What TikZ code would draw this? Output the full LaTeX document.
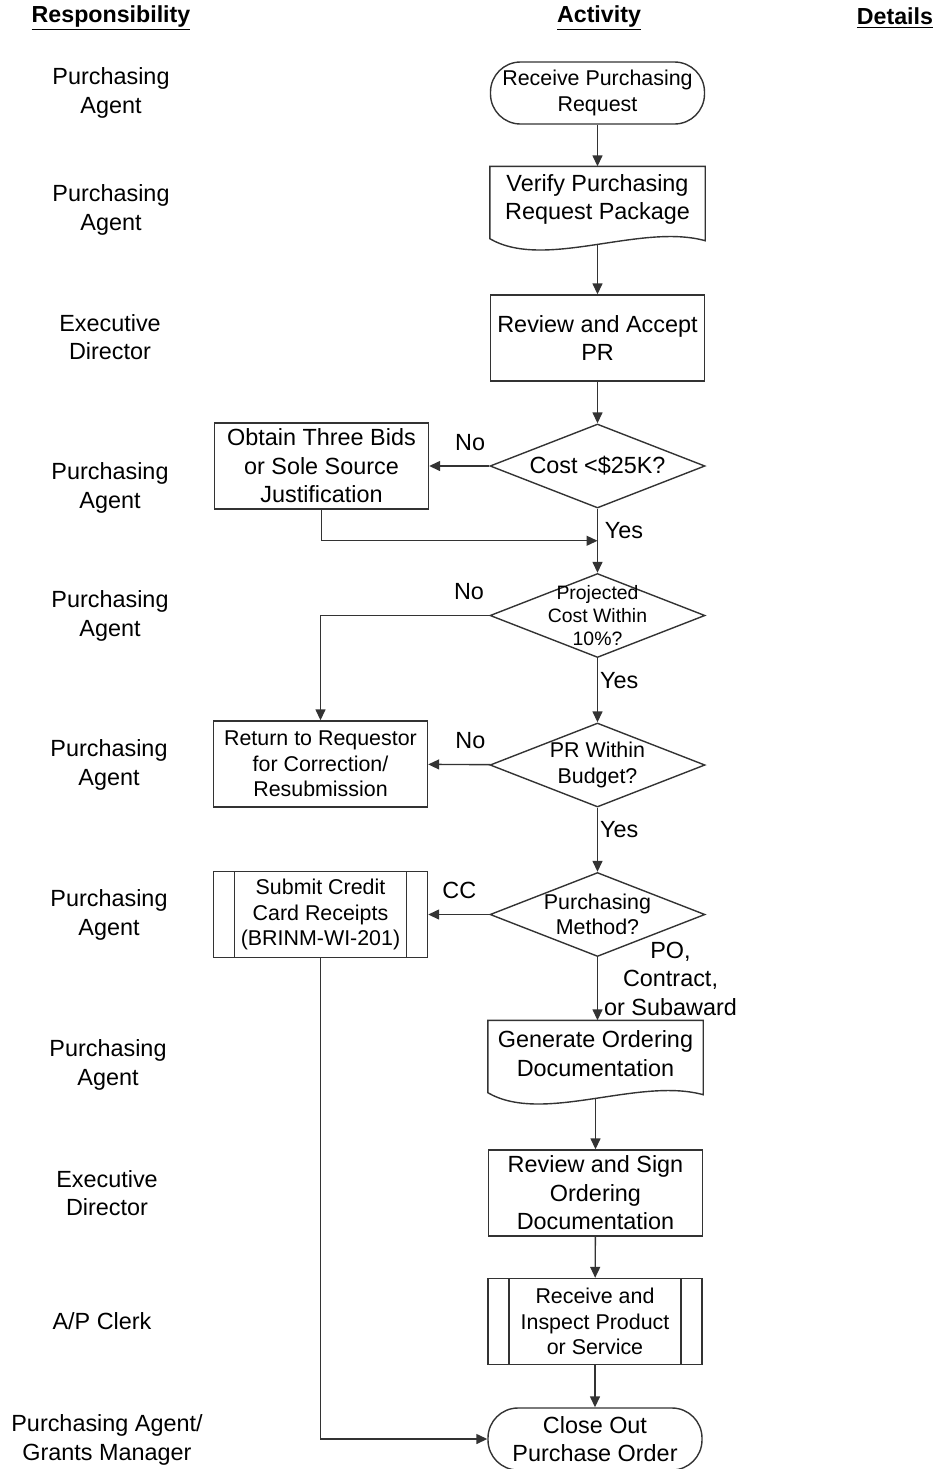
\documentclass[tikz,border=0pt]{standalone}
\usepackage{fontspec}
\setmainfont{Liberation Sans}
\usetikzlibrary{shapes.geometric, arrows.meta, positioning, calc}

\tikzset{
  txt/.style={font=\fontsize{11.7}{14.2}\selectfont},
  txtsm/.style={font=\fontsize{10.7}{12.8}\selectfont},
  head/.style={font=\fontsize{11.6}{14}\selectfont\bfseries},
  who/.style={txt, align=center},
  box/.style={rectangle, draw=black!80, line width=0.7pt, align=center, txt,
    minimum width=107pt, minimum height=43pt, inner sep=2pt},
  term/.style={box, rounded corners=15pt, minimum height=31pt, txtsm},
  docbox/.style={box, draw=none, minimum height=32.5pt},
  subproc/.style={box, txtsm, path picture={
    \draw[black!80, line width=0.7pt]
      ([xshift=10.5pt]path picture bounding box.north west) -- ([xshift=10.5pt]path picture bounding box.south west)
      ([xshift=-10.5pt]path picture bounding box.north east) -- ([xshift=-10.5pt]path picture bounding box.south east);}},
  decision/.style={diamond, draw=black!80, line width=0.7pt, align=center, txtsm,
    aspect=2.6, inner sep=-8pt, minimum width=107.5pt, minimum height=42pt},
  flow/.style={draw=black!80, line width=0.7pt, -{Triangle[length=5.5pt, width=5pt]}},
  lbl/.style={txt}
}

% wavy outline of a document box, plus the point where its arrow leaves
\newcommand{\docwave}[1]{%
  \draw[black!80, line width=0.7pt] (#1.north west) -- (#1.north east) -- ($(#1.south east)+(0,8)$)
    .. controls ($(#1.south east)+(-65,-10)$) and ($(#1.south west)+(55,38)$) .. ($(#1.south west)+(0,6)$) -- cycle;
  \coordinate (#1-b) at ($(#1.south)+(0,12)$);}

\begin{document}
\begin{tikzpicture}[x=0.5pt, y=-0.5pt]
    \useasboundingbox (0,0) rectangle (938,1469);

    % headings
    \node[head] (hresp) at (111,18) {\underline{Responsibility}};
    \node[head] (hact)  at (599,18) {\underline{Activity}};
    \node[head] (hdet)  at (895,18) {\underline{Details}};

    % responsibility
    \node[who] (r1)  at (111,93)   {Purchasing\\Agent};
    \node[who] (r2)  at (111,210)  {Purchasing\\Agent};
    \node[who] (r3)  at (110,337)  {Executive\\Director};
    \node[who] (r4)  at (110,488)  {Purchasing\\Agent};
    \node[who] (r5)  at (110,616)  {Purchasing\\Agent};
    \node[who] (r6)  at (109,765)  {Purchasing\\Agent};
    \node[who] (r7)  at (109,915)  {Purchasing\\Agent};
    \node[who] (r8)  at (108,1065) {Purchasing\\Agent};
    \node[who] (r9)  at (107,1193) {Executive\\Director};
    \node[who] (r10) at (102,1321) {A/P Clerk};
    \node[who] (r11) at (107,1440) {Purchasing Agent/\\Grants Manager};

    % activity
    \node[term] (recv) at (597.5,93) {Receive Purchasing\\Request};
    \node[docbox] (verify) at (597.5,199.5) {Verify Purchasing\\Request Package};
    \docwave{verify}
    \node[box] (accept) at (597.5,338) {Review and Accept\\PR};
    \node[decision, txt] (cost) at (597.5,466) {Cost <\$25K?};
    \node[box] (bids) at (321.5,466) {Obtain Three Bids\\or Sole Source\\Justification};
    \node[decision, font=\fontsize{9.7}{11.3}\selectfont] (proj) at (597.5,615.5) {Projected\\Cost Within\\10\%?};
    \node[decision] (budget) at (597.5,765) {PR Within\\Budget?};
    \node[box, txtsm] (ret) at (320.5,764) {Return to Requestor\\for Correction/\\Resubmission};
    \node[decision] (method) at (597.5,914.5) {Purchasing\\Method?};
    \node[subproc] (ccr) at (320.5,914.5) {Submit Credit\\Card Receipts\\(BRINM-WI-201)};
    \node[docbox] (gen) at (595.5,1053.5) {Generate Ordering\\Documentation};
    \docwave{gen}
    \node[box] (sign) at (595.5,1193) {Review and Sign\\Ordering\\Documentation};
    \node[subproc] (insp) at (595,1321.5) {Receive and\\Inspect Product\\or Service};
    \node[term, txt] (close) at (595,1439) {Close Out\\Purchase Order};

    % connectors
    \draw[flow] (recv) -- (verify);
    \draw[flow] (verify-b) -- (accept);
    \draw[flow] (accept) -- (cost);
    \draw[flow] (cost) -- node[lbl, above=4pt, pos=0.32] {No} (bids);
    \draw[flow] (cost) -- node[lbl, right, pos=0.34] {Yes} (proj);
    \coordinate (merge) at ($(cost.south)!0.5!(proj.north)$);
    \draw[flow] (bids.south) |- (merge);
    \draw[flow] (proj.west) -| node[lbl, above=4pt, pos=0.06] {No} (ret.north);
    \draw[flow] (proj) -- node[lbl, right, inner sep=1pt, pos=0.35] {Yes} (budget);
    \draw[flow] (budget) -- node[lbl, above=4pt, pos=0.32] {No} (ret);
    \draw[flow] (budget) -- node[lbl, right, inner sep=1pt, pos=0.34] {Yes} (method);
    \draw[flow] (method) -- node[lbl, above=4pt, pos=0.49] {CC} (ccr);
    \draw[flow] (method.south) -- node[lbl, right, align=center, inner sep=3pt, pos=0.34] {PO,\\Contract,\\or Subaward} (method.south |- gen.north);
    \draw[flow] (gen-b) -- (sign);
    \draw[flow] (sign) -- (insp);
    \draw[flow] (insp) -- (close);
    \draw[flow] (ccr.south) |- (close.west);
\end{tikzpicture}
\end{document}
